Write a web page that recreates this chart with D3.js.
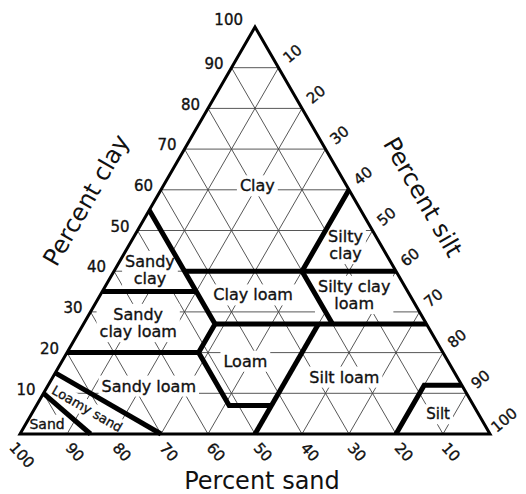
<!DOCTYPE html>
<html>
<head>
<meta charset="utf-8">
<script src="https://cdn.jsdelivr.net/npm/d3@7"></script>
<style>
  body { margin: 0; background: #fff; }
  text { font-family: "DejaVu Sans", Verdana, sans-serif; fill: #111; }
  .heavy { stroke: #111; stroke-width: 0.35px; }
</style>
</head>
<body>
<svg id="chart" width="526" height="494"></svg>
<script>
// tick values on each side (percent)
const ticks = [10, 20, 30, 40, 50, 60, 70, 80, 90, 100];
const gridSteps = [10, 20, 30, 40, 50, 60, 70, 80, 90];

// texture class boundaries, points as [clay, silt]
const boundaries = [
  [[55, 0], [27, 28], [20, 28], [7, 41], [7, 50]],   // sand 45 / loam edge
  [[35, 0], [35, 20]],                               // sandy clay / sandy clay loam
  [[40, 15], [40, 60]],                              // clay 40
  [[60, 40], [40, 40], [27, 53]],                    // silty clay / silty clay loam
  [[27, 28], [27, 73]],                              // clay 27
  [[20, 0], [20, 28]],                               // clay 20
  [[0, 50], [27, 50]],                               // silt 50
  [[0, 80], [12, 80], [12, 88]],                     // silt
  [[15, 0], [0, 30]],                                // loamy sand
  [[10, 0], [0, 15]]                                 // sand
];

// class names, placed at [clay, silt]
const classNames = [
  { lines: ['Clay'], clay: 61, silt: 20, size: 16 },
  { lines: ['Silty', 'clay'], clay: 46.5, silt: 46, size: 16 },
  { lines: ['Sandy', 'clay'], clay: 40.3, silt: 7.5, size: 16 },
  { lines: ['Clay loam'], clay: 34.2, silt: 32.5, size: 16 },
  { lines: ['Silty clay', 'loam'], clay: 34.2, silt: 54, size: 16 },
  { lines: ['Sandy', 'clay loam'], clay: 27.3, silt: 11.5, size: 16 },
  { lines: ['Loam'], clay: 17.9, silt: 39, size: 16 },
  { lines: ['Silt loam'], clay: 14, silt: 62, size: 16 },
  { lines: ['Sandy loam'], clay: 11.8, silt: 21.5, size: 16 },
  { lines: ['Silt'], clay: 4.9, silt: 86.5, size: 15 },
  { lines: ['Loamy sand'], clay: 6.2, silt: 11.2, size: 13, angle: 30 },
  { lines: ['Sand'], clay: 2.5, silt: 4.5, size: 14 }
];

const svg = d3.select('#chart');

// horizontal position follows silt + clay/2, vertical follows clay
const x = d3.scaleLinear().domain([0, 100]).range([20, 490]);
const y = d3.scaleLinear().domain([0, 100]).range([434, 27]);
const pt = (clay, silt) => [x(silt + clay / 2), y(clay)];

const line = d3.line();

// thin grid
const grid = svg.append('g')
  .attr('stroke', '#444')
  .attr('stroke-width', 0.9)
  .attr('fill', 'none');

gridSteps.forEach(v => {
  grid.append('path').attr('d', line([pt(v, 0), pt(v, 100 - v)]));          // clay
  grid.append('path').attr('d', line([pt(0, v), pt(100 - v, v)]));          // silt
  grid.append('path').attr('d', line([pt(0, 100 - v), pt(100 - v, 0)]));    // sand
});

// class labels with white knockout
const labels = svg.append('g');
classNames.forEach(d => {
  const [cx, cy] = pt(d.clay, d.silt);
  const g = labels.append('g')
    .attr('transform', `translate(${cx},${cy}) rotate(${d.angle || 0})`);
  const lh = d.size * 1.08;
  const t = g.append('text')
    .attr('class', 'heavy')
    .attr('text-anchor', 'middle')
    .attr('font-size', d.size);
  d.lines.forEach((s, i) => {
    t.append('tspan')
      .attr('x', 0)
      .attr('y', (i - (d.lines.length - 1) / 2) * lh)
      .attr('dy', '0.35em')
      .text(s);
  });
  const bb = t.node().getBBox();
  g.insert('rect', 'text')
    .attr('x', bb.x - 3)
    .attr('y', bb.y - 1)
    .attr('width', bb.width + 6)
    .attr('height', bb.height + 2)
    .attr('fill', '#fff');
});

// class boundaries
svg.append('g')
  .attr('stroke', '#000')
  .attr('stroke-width', 5)
  .attr('fill', 'none')
  .attr('stroke-linejoin', 'miter')
  .selectAll('path')
  .data(boundaries)
  .join('path')
  .attr('d', d => line(d.map(p => pt(p[0], p[1]))));

// outline
svg.append('path')
  .attr('d', line([pt(0, 0), pt(100, 0), pt(0, 100)]) + 'Z')
  .attr('fill', 'none')
  .attr('stroke', '#000')
  .attr('stroke-width', 3)
  .attr('stroke-linejoin', 'miter');

// clay ticks (left side)
svg.append('g').selectAll('text')
  .data(ticks)
  .join('text')
  .attr('class', 'heavy')
  .attr('x', d => pt(d, 0)[0] - (d === 100 ? 12 : 8))
  .attr('y', d => pt(d, 0)[1] - (d === 100 ? 7 : 4))
  .attr('dy', '0.35em')
  .attr('text-anchor', 'end')
  .attr('font-size', 15)
  .text(d => d);

// silt ticks (right side)
svg.append('g').selectAll('text')
  .data(ticks)
  .join('text')
  .attr('class', 'heavy')
  .attr('transform', d => {
    const [px, py] = pt(100 - d, d);
    return `translate(${px + 14},${py - 14}) rotate(-40)`;
  })
  .attr('dy', '0.35em')
  .attr('text-anchor', 'middle')
  .attr('font-size', 15)
  .text(d => d);

// sand ticks (bottom)
svg.append('g').selectAll('text')
  .data(ticks)
  .join('text')
  .attr('class', 'heavy')
  .attr('transform', d => {
    const [px, py] = pt(0, 100 - d);
    return `translate(${px + (d === 100 ? 2 : 8)},${py + (d === 100 ? 21 : 18)}) rotate(48)`;
  })
  .attr('dy', '0.35em')
  .attr('text-anchor', 'middle')
  .attr('font-size', 15)
  .text(d => d);

// axis titles
svg.append('text')
  .attr('transform', 'translate(86,200) rotate(-60)')
  .attr('text-anchor', 'middle')
  .attr('dy', '0.35em')
  .attr('font-size', 24)
  .text('Percent clay');

svg.append('text')
  .attr('transform', 'translate(423,197) rotate(60)')
  .attr('text-anchor', 'middle')
  .attr('dy', '0.35em')
  .attr('font-size', 24)
  .text('Percent silt');

svg.append('text')
  .attr('x', 262)
  .attr('y', 489)
  .attr('text-anchor', 'middle')
  .attr('font-size', 24)
  .text('Percent sand');
</script>
</body>
</html>
